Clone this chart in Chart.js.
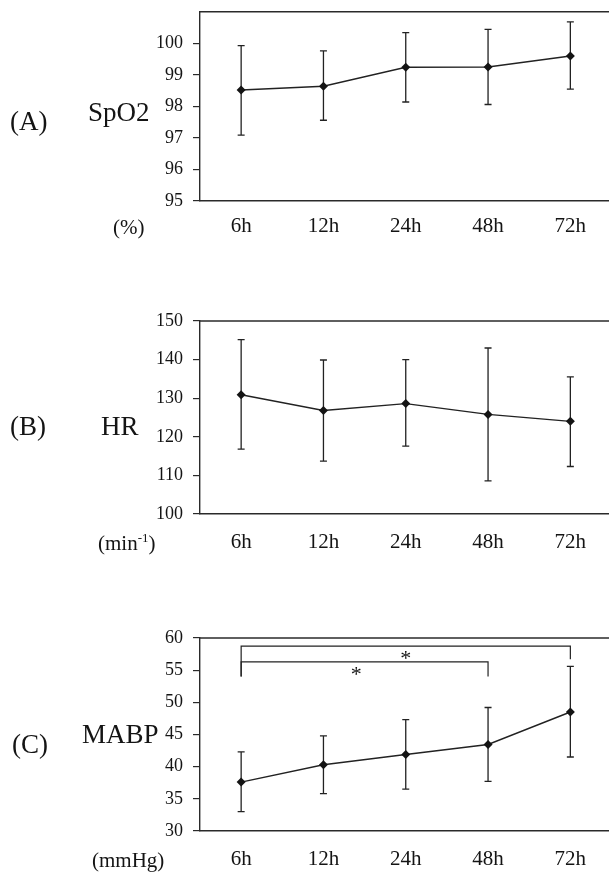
<!DOCTYPE html>
<html><head><meta charset="utf-8">
<script src="https://cdn.jsdelivr.net/npm/chart.js@4.4.1/dist/chart.umd.min.js"></script>
<style>
html,body{margin:0;padding:0;background:#fff;overflow:hidden;width:609px;height:872px;position:relative;}
.p{position:absolute;left:0;width:616px;}
canvas{display:block;}
</style></head><body>
<div class="p" style="top:-9px;height:259px"><canvas id="cA"></canvas></div>
<div class="p" style="top:290px;height:290px"><canvas id="cB"></canvas></div>
<div class="p" style="top:600px;height:272px"><canvas id="cC"></canvas></div>
<script>
// ---------- data ----------
const categories = ['6h','12h','24h','48h','72h'];

const spo2Mean = [98.52, 98.64, 99.24, 99.25, 99.60];
const spo2Low  = [97.09, 97.56, 98.14, 98.06, 98.55];
const spo2High = [99.93, 99.76, 100.34, 100.44, 100.68];
const spo2Ticks = [95, 96, 97, 98, 99, 100];

const hrMean = [130.9, 126.8, 128.6, 125.8, 124.0];
const hrLow  = [116.8, 113.7, 117.6, 108.6, 112.3];
const hrHigh = [145.2, 139.9, 140.0, 143.0, 135.5];
const hrTicks = [100, 110, 120, 130, 140, 150];

const mabpMean = [37.6, 40.3, 41.9, 43.45, 48.5];
const mabpLow  = [33.0, 35.8, 36.5, 37.7, 41.5];
const mabpHigh = [42.3, 44.8, 47.3, 49.2, 55.6];
const mabpTicks = [30, 35, 40, 45, 50, 55, 60];

// significance brackets (category index / value units)
const bracketFrom = [0, 0];
const bracketTo = [4, 3];
const bracketLevel = [58.75, 56.3];
const bracketRightEnd = [56.7, 54.0];
const bracketLeftEnd = [54.0, 54.0];
const starPos = [2, 1.4];
const starLevel = [57.4, 54.9];

// ---------- styling / plugins ----------
const SERIF = "'Liberation Serif','Times New Roman',serif";
const INK = '#141414';
const LINE = '#222';

function errorBars(low, high) {
  return {
    id: 'errorBars',
    beforeDatasetsDraw(chart) {
      const x = chart.scales.x, y = chart.scales.y, ctx = chart.ctx;
      ctx.save();
      ctx.strokeStyle = LINE;
      ctx.lineWidth = 1.3;
      for (let i = 0; i < low.length; i++) {
        const px = x.getPixelForValue(i);
        const pl = y.getPixelForValue(low[i]);
        const ph = y.getPixelForValue(high[i]);
        ctx.beginPath();
        ctx.moveTo(px, pl); ctx.lineTo(px, ph);
        ctx.moveTo(px - 3.5, pl); ctx.lineTo(px + 3.5, pl);
        ctx.moveTo(px - 3.5, ph); ctx.lineTo(px + 3.5, ph);
        ctx.stroke();
      }
      ctx.restore();
    }
  };
}

const frame = {
  id: 'frame',
  beforeDatasetsDraw(chart) {
    const a = chart.chartArea, ctx = chart.ctx;
    ctx.save();
    ctx.strokeStyle = '#2a2a2a';
    ctx.lineWidth = 1.4;
    ctx.beginPath(); ctx.moveTo(a.left, a.top); ctx.lineTo(a.right, a.top); ctx.stroke();
    ctx.strokeStyle = '#c8c8c8';
    ctx.lineWidth = 1;
    ctx.beginPath(); ctx.moveTo(a.right - 0.5, a.top); ctx.lineTo(a.right - 0.5, a.bottom); ctx.stroke();
    ctx.restore();
  }
};

function textLabels(items) {
  return {
    id: 'textLabels',
    afterDraw(chart) {
      const ctx = chart.ctx;
      ctx.save();
      ctx.fillStyle = INK;
      ctx.textBaseline = 'alphabetic';
      ctx.textAlign = 'left';
      items.forEach(it => {
        let xx = it.x;
        it.parts.forEach(p => {
          ctx.font = p.size + 'px ' + SERIF;
          ctx.fillText(p.t, xx, it.y - (p.rise || 0));
          xx += ctx.measureText(p.t).width;
        });
      });
      ctx.restore();
    }
  };
}

const brackets = {
  id: 'brackets',
  afterDatasetsDraw(chart) {
    const x = chart.scales.x, y = chart.scales.y, ctx = chart.ctx;
    ctx.save();
    ctx.strokeStyle = LINE;
    ctx.lineWidth = 1.2;
    for (let i = 0; i < bracketFrom.length; i++) {
      const x1 = x.getPixelForValue(bracketFrom[i]);
      const x2 = x.getPixelForValue(bracketTo[i]);
      const yl = y.getPixelForValue(bracketLevel[i]);
      ctx.beginPath();
      ctx.moveTo(x1, y.getPixelForValue(bracketLeftEnd[i]));
      ctx.lineTo(x1, yl);
      ctx.lineTo(x2, yl);
      ctx.lineTo(x2, y.getPixelForValue(bracketRightEnd[i]));
      ctx.stroke();
    }
    ctx.fillStyle = INK;
    ctx.font = '22px ' + SERIF;
    ctx.textAlign = 'center';
    ctx.textBaseline = 'alphabetic';
    for (let i = 0; i < starPos.length; i++) {
      ctx.fillText('*', x.getPixelForValue(starPos[i]), y.getPixelForValue(starLevel[i]) + 10);
    }
    ctx.restore();
  }
};

function makeChart(id, mean, low, high, ticks, yMin, yMax, cfg) {
  return new Chart(document.getElementById(id), {
    type: 'line',
    data: {
      labels: categories,
      datasets: [{
        data: mean,
        borderColor: LINE,
        borderWidth: 1.4,
        pointStyle: 'rectRot',
        pointRadius: 4.5,
        pointBackgroundColor: INK,
        pointBorderColor: INK,
        pointBorderWidth: 0,
        tension: 0,
        fill: false
      }]
    },
    options: {
      responsive: true,
      maintainAspectRatio: false,
      animation: false,
      events: [],
      layout: { padding: { top: cfg.padTop, left: 0, right: 1, bottom: 0 } },
      plugins: { legend: { display: false }, tooltip: { enabled: false } },
      scales: {
        x: {
          type: 'category',
          offset: true,
          grid: { display: false, drawTicks: false },
          border: { display: true, color: '#2a2a2a', width: 1.4 },
          ticks: { font: { family: SERIF, size: 21 }, color: INK, padding: cfg.xPad, maxRotation: 0, autoSkip: false },
          afterFit(s) { s.height = cfg.xH; }
        },
        y: {
          min: yMin, max: yMax,
          grid: { display: true, drawOnChartArea: false, drawTicks: true, tickLength: 7, color: '#2a2a2a', lineWidth: 1.2 },
          border: { display: true, color: '#2a2a2a', width: 1.4 },
          afterBuildTicks(s) { s.ticks = ticks.map(v => ({ value: v })); },
          ticks: { font: { family: SERIF, size: 18 }, color: INK, padding: 10 },
          afterFit(s) { s.width = 200; }
        }
      }
    },
    plugins: [frame, errorBars(low, high), textLabels(cfg.labels)].concat(cfg.extra || [])
  });
}

makeChart('cA', spo2Mean, spo2Low, spo2High, spo2Ticks, 95, 101, {
  padTop: 20, xH: 49, xPad: 13,
  labels: [
    { x: 10, y: 139, parts: [{ t: '(A)', size: 27 }] },
    { x: 88, y: 130, parts: [{ t: 'SpO2', size: 27 }] },
    { x: 113, y: 243, parts: [{ t: '(%)', size: 21 }] }
  ]
});

makeChart('cB', hrMean, hrLow, hrHigh, hrTicks, 100, 150, {
  padTop: 31, xH: 66, xPad: 16,
  labels: [
    { x: 10, y: 145, parts: [{ t: '(B)', size: 27 }] },
    { x: 101, y: 145, parts: [{ t: 'HR', size: 27 }] },
    { x: 98, y: 260, parts: [{ t: '(min', size: 21 }, { t: '-1', size: 13, rise: 8 }, { t: ')', size: 21 }] }
  ]
});

makeChart('cC', mabpMean, mabpLow, mabpHigh, mabpTicks, 30, 60, {
  padTop: 38, xH: 41, xPad: 16,
  labels: [
    { x: 12, y: 153, parts: [{ t: '(C)', size: 27 }] },
    { x: 82, y: 143, parts: [{ t: 'MABP', size: 27 }] },
    { x: 92, y: 267, parts: [{ t: '(mmHg)', size: 21 }] }
  ],
  extra: [brackets]
});
</script>
</body></html>
